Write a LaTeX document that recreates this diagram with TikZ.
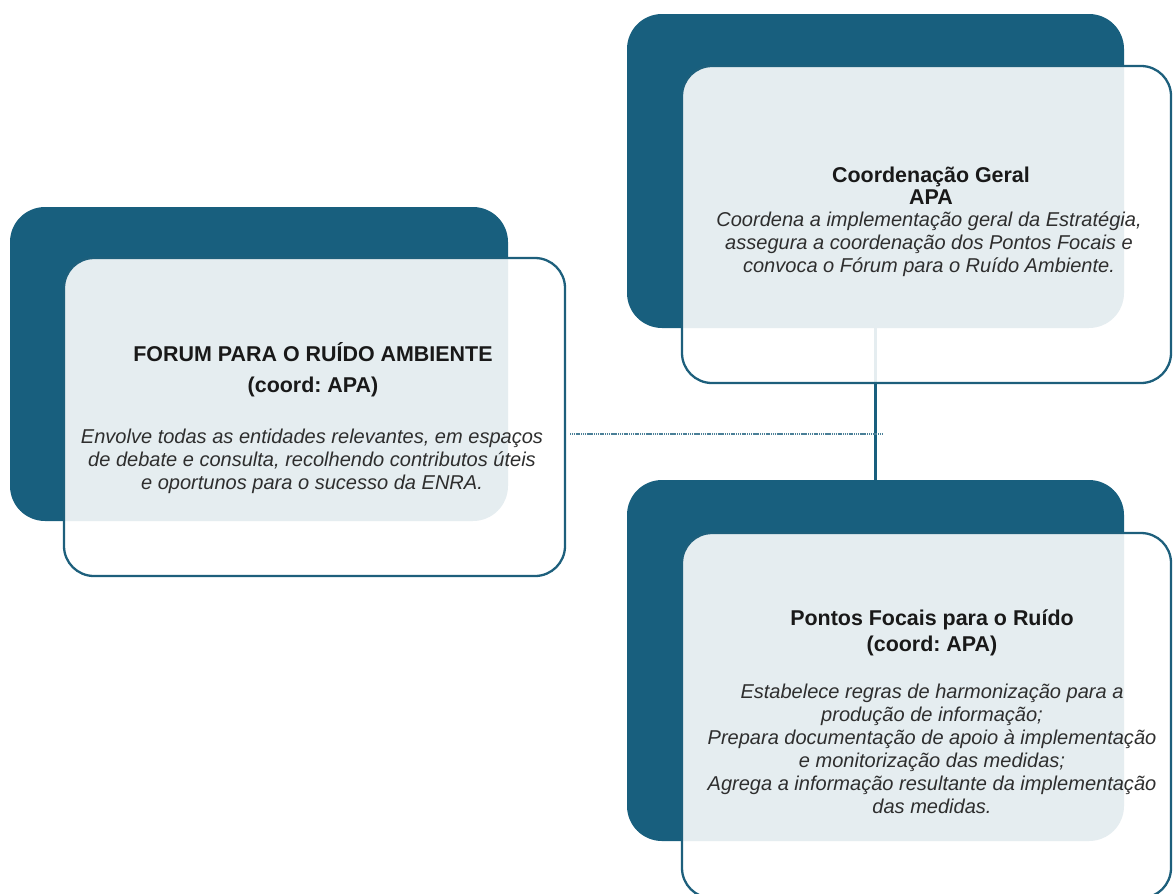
\documentclass[tikz,border=0pt]{standalone}
\usepackage{fontspec}
\setmainfont{Liberation Sans}
\usetikzlibrary{fit}
\frenchspacing
\definecolor{apablue}{HTML}{185F7E}
\definecolor{apaline}{HTML}{1D5F7C}
\definecolor{apadot}{HTML}{4A7F97}
\begin{document}
\begin{tikzpicture}[x=0.02cm,y=-0.02cm,
  darkbox/.style={fill=apablue, draw=none, rounded corners=0.7cm, inner sep=0pt},
  lightbox/.style={fill=white, fill opacity=0.89, draw=apaline, draw opacity=1, line width=1.3pt, rounded corners=0.6cm, inner sep=0pt},
  ttl/.style={font=\bfseries\fontsize{12.2}{12.5}\selectfont, align=center, text=black!90, inner sep=0pt},
  body/.style={font=\itshape\fontsize{11.4}{13.05}\selectfont, align=center, text=black!82, inner sep=0pt},
  conn/.style={draw=apablue, line width=1.6pt},
  dotconn/.style={draw=apadot, line width=1.1pt, dash pattern=on 0.7pt off 0.35pt}]
\clip (0,0) rectangle (1173,893);
% dark back panels
\node[darkbox, fit={(10,207)(508,521)}] (ld) {};
\node[darkbox, fit={(627,14)(1124,328)}] (td) {};
\node[darkbox, fit={(627,480)(1124,841)}] (bd) {};
% connectors
\draw[conn] (td.south) -- (bd.north);
\coordinate (hl) at (570,434);
\coordinate (hr) at (882,434);
\draw[dotconn] (hl) -- (hr);
% light front panels
\node[lightbox, fit={(64,258)(565,576)}] (lf) {};
\node[lightbox, fit={(682,66)(1171,383)}] (tf) {};
\node[lightbox, fit={(682,533)(1171,898)}] (bf) {};
% texts
\node[ttl] (lt1) at (313,352) {FORUM PARA O RUÍDO AMBIENTE};
\node[ttl] (lt2) at (313,387) {(coord: APA)};
\node[body] (lb) at (312,461) {Envolve todas as entidades relevantes, em espaços\\de debate e consulta, recolhendo contributos úteis\\e oportunos para o sucesso da ENRA.};
\node[ttl] (tt) at (931,186) {Coordenação Geral\\APA};
\node[body] (tb) at (929,244) {Coordena a implementação geral da Estratégia,\\assegura a coordenação dos Pontos Focais e\\convoca o Fórum para o Ruído Ambiente.};
\node[ttl] (bt1) at (932,620) {Pontos Focais para o Ruído};
\node[ttl] (bt2) at (932,646) {(coord: APA)};
\node[body] (bb) at (932,749) {Estabelece regras de harmonização para a\\produção de informação;\\Prepara documentação de apoio à implementação\\e monitorização das medidas;\\Agrega a informação resultante da implementação\\das medidas.};
\end{tikzpicture}
\end{document}
